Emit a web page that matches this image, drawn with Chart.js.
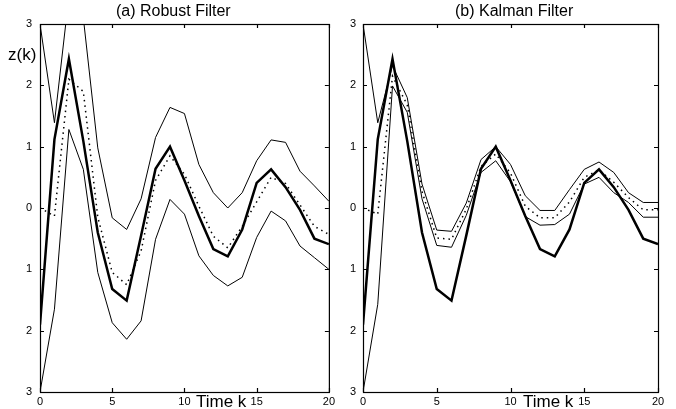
<!DOCTYPE html>
<html>
<head>
<meta charset="utf-8">
<script src="https://cdn.jsdelivr.net/npm/chart.js@4"></script>
<style>
  body { margin: 0; background: #fff; }
  #wrap { position: relative; width: 676px; height: 409px; font-family: "Liberation Sans", Arial, sans-serif; }
  .cv { position: absolute; top: 0; width: 338px; height: 409px; }
  .lbl { position: absolute; color: #000; white-space: nowrap; }
</style>
</head>
<body>
<div id="wrap">
  <div class="cv" style="left:0"><canvas id="robustChart"></canvas></div>
  <div class="cv" style="left:338px"><canvas id="kalmanChart"></canvas></div>
  <div class="lbl" style="left:116px;top:2px;font-size:16px">(a) Robust Filter</div>
  <div class="lbl" style="left:455px;top:2px;font-size:16px">(b) Kalman Filter</div>
  <div class="lbl" style="left:8px;top:45px;font-size:17px">z(k)</div>
  <div class="lbl" style="left:196px;top:392px;font-size:17px">Time k</div>
  <div class="lbl" style="left:523px;top:392px;font-size:17px">Time k</div>
</div>
<script>
// valores (k = 0..20)
const timeK = [0,1,2,3,4,5,6,7,8,9,10,11,12,13,14,15,16,17,18,19,20];
const yTicks = [-3, -2, -1, 0, 1, 2, 3];
const yTickLabels = ['3', '2', '1', '0', '1', '2', '3'];
const xTicks = [0, 5, 10, 15, 20];

// estado verdadeiro (linha grossa, igual nos dois painéis)
const trueState = [-1.9, 1.12, 2.43, 1.09, -0.40, -1.32, -1.51, -0.45, 0.64, 1.0, 0.45, -0.13, -0.67, -0.79, -0.35, 0.41, 0.63, 0.34, -0.03, -0.5, -0.59];

// (a) filtro robusto
const robustEst = [0, -0.13, 2.1, 1.9, -0.15, -1.05, -1.25, -0.7, 0.45, 0.85, 0.55, 0.03, -0.46, -0.65, -0.3, 0.1, 0.5, 0.4, 0.05, -0.3, -0.43];
const robustUpper = [3.0, 1.39, 3.45, 3.1, 0.98, -0.16, -0.35, 0.15, 1.15, 1.64, 1.54, 0.71, 0.25, 0.0, 0.25, 0.77, 1.11, 1.07, 0.6, 0.36, 0.11];
const robustLower = [-3.0, -1.65, 1.28, 0.63, -1.05, -1.87, -2.14, -1.84, -0.51, 0.14, -0.1, -0.78, -1.1, -1.27, -1.13, -0.48, -0.05, -0.21, -0.62, -0.81, -1.0];

// (b) filtro de Kalman
const kalmanEst = [0, -0.1, 2.15, 1.68, 0.27, -0.49, -0.51, -0.02, 0.68, 0.88, 0.57, 0.03, -0.16, -0.16, 0.1, 0.5, 0.62, 0.42, 0.17, -0.03, -0.03];
const kalmanUpper = [3.0, 1.39, 2.32, 1.8, 0.39, -0.36, -0.38, 0.08, 0.79, 1.0, 0.71, 0.2, -0.04, -0.04, 0.3, 0.63, 0.75, 0.58, 0.25, 0.09, 0.09];
const kalmanLower = [-3.0, -1.57, 1.99, 1.56, 0.15, -0.61, -0.64, -0.12, 0.58, 0.77, 0.43, -0.14, -0.28, -0.27, -0.1, 0.39, 0.5, 0.25, 0.09, -0.15, -0.15];

// moldura com marcas internas, estilo MATLAB
const framePlugin = {
    id: 'frame',
    afterDraw(chart) {
        const { ctx, chartArea: a, scales } = chart;
        ctx.save();
        ctx.strokeStyle = '#000';
        ctx.lineWidth = 1.2;
        ctx.strokeRect(a.left + 0.5, a.top + 0.5, a.right - a.left, a.bottom - a.top);
        ctx.beginPath();
        xTicks.forEach(t => {
            const x = Math.round(scales.x.getPixelForValue(t)) + 0.5;
            ctx.moveTo(x, a.bottom); ctx.lineTo(x, a.bottom - 4);
            ctx.moveTo(x, a.top); ctx.lineTo(x, a.top + 4);
        });
        yTicks.forEach(t => {
            const y = Math.round(scales.y.getPixelForValue(t)) + 0.5;
            ctx.moveTo(a.left, y); ctx.lineTo(a.left + 4, y);
            ctx.moveTo(a.right, y); ctx.lineTo(a.right - 4, y);
        });
        ctx.stroke();
        ctx.restore();
    }
};

function toPoints(values) {
    return values.map((v, i) => ({ x: timeK[i], y: v }));
}

function createFilterChart(id, est, upper, lower, yWidth, yPad, padRight) {
    const ctx = document.getElementById(id).getContext('2d');
    const thin = { borderColor: '#000', borderWidth: 1, pointRadius: 0, tension: 0, fill: false };
    new Chart(ctx, {
        type: 'line',
        data: {
            datasets: [
                { ...thin, data: toPoints(upper) },
                { ...thin, data: toPoints(lower) },
                { ...thin, data: toPoints(est), borderWidth: 1.5, borderDash: [1.5, 4] },
                { ...thin, data: toPoints(trueState), borderWidth: 2.5 }
            ]
        },
        options: {
            responsive: true,
            maintainAspectRatio: false,
            animation: false,
            layout: { padding: { top: 24, right: padRight, left: 0, bottom: 0 } },
            plugins: { legend: { display: false }, tooltip: { enabled: false } },
            scales: {
                x: {
                    type: 'linear',
                    min: 0, max: 20,
                    afterFit: s => { s.height = 17; },
                    afterBuildTicks: s => { s.ticks = xTicks.map(v => ({ value: v })); },
                    grid: { display: false, drawTicks: false },
                    border: { display: false },
                    ticks: { padding: 3, color: '#000', font: { family: 'Liberation Sans', size: 11 } }
                },
                y: {
                    type: 'linear',
                    min: -3, max: 3,
                    afterFit: s => { s.width = yWidth; },
                    afterBuildTicks: s => { s.ticks = yTicks.map(v => ({ value: v })); },
                    grid: { display: false, drawTicks: false },
                    border: { display: false },
                    ticks: {
                        padding: yPad,
                        color: '#000',
                        font: { family: 'Liberation Sans', size: 11 },
                        callback: v => yTickLabels[yTicks.indexOf(v)]
                    }
                }
            }
        },
        plugins: [framePlugin]
    });
}

function initCharts() {
    createFilterChart('robustChart', robustEst, robustUpper, robustLower, 40, 8, 7);
    createFilterChart('kalmanChart', kalmanEst, kalmanUpper, kalmanLower, 25, 7, 18);
}

window.addEventListener('load', initCharts);
</script>
</body>
</html>
